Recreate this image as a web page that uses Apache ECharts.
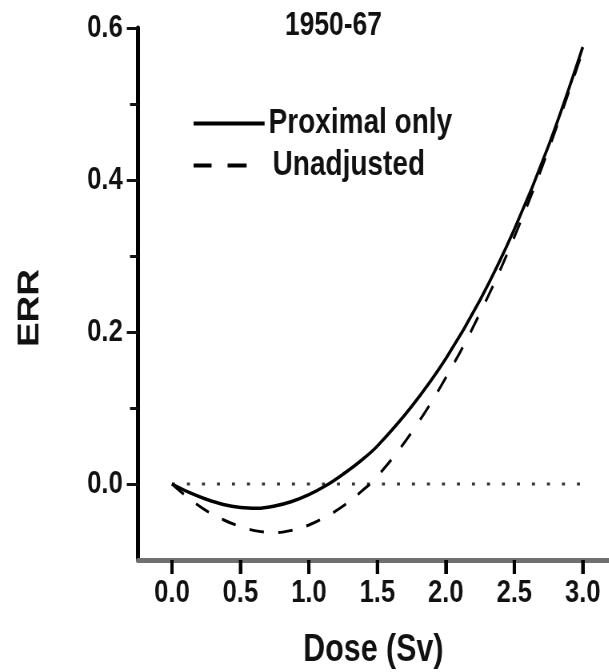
<!DOCTYPE html>
<html>
<head>
<meta charset="utf-8">
<script src="https://cdn.jsdelivr.net/npm/echarts@6/dist/echarts.min.js"></script>
<style>
  html, body { margin: 0; padding: 0; background: #fff; overflow: hidden; }
  /* the source figure has tall, narrow lettering: draw wider and squeeze horizontally */
  #chart { width: 761.25px; height: 672px; transform: scaleX(0.8); transform-origin: 0 0; }
</style>
</head>
<body>
<div id="chart"></div>
<script>
// values (dose in Sv, excess relative risk)
const doses = [0, 0.125, 0.25, 0.375, 0.5, 0.625, 0.75, 0.875, 1.0, 1.125, 1.25, 1.375, 1.5,
  1.75, 2.0, 2.25, 2.5, 2.75, 3.0]
const proximalOnly = [0, -0.011, -0.02, -0.027, -0.031, -0.032, -0.029, -0.023, -0.014, -0.002, 0.013, 0.03, 0.05,
  0.102, 0.165, 0.242, 0.335, 0.445, 0.575]
const unadjusted = [0, -0.019, -0.035, -0.047, -0.056, -0.062, -0.064, -0.061, -0.054, -0.043, -0.029, -0.011, 0.01,
  0.068, 0.14, 0.225, 0.325, 0.44, 0.57]
const zeroLine = [[0, 0], [3, 0]]

const xTicks = [0, 0.5, 1.0, 1.5, 2.0, 2.5, 3.0]
const yTicks = [0, 0.2, 0.4, 0.6]
const yMinorTicks = [0.1, 0.3, 0.5]
const Y_MIN = -0.1

const SX = 0.8 // horizontal squeeze applied by css
const FONT = "'Liberation Sans', Arial, sans-serif"
const px = v => v / SX

function pairs(xs, ys) {
  return xs.map((x, i) => [x, ys[i]])
}

const chart = echarts.init(document.getElementById('chart'))

const textBase = { fontFamily: FONT, fontWeight: 'bold', color: '#111' }

chart.setOption({
  animation: false,
  title: {
    text: '1950-67',
    left: px(285),
    top: 9,
    padding: 0,
    textStyle: { ...textBase, fontSize: 33 }
  },
  legend: [
    {
      data: ['Proximal only'],
      left: px(192),
      top: 106,
      padding: 0,
      itemWidth: px(71),
      itemHeight: 4,
      lineStyle: { width: 4 },
      textStyle: { ...textBase, fontSize: 35 }
    },
    {
      data: [{
        name: 'Unadjusted',
        lineStyle: { width: 4, type: [px(18), px(16), px(19), 80] }
      }],
      left: px(192),
      top: 148,
      padding: 0,
      itemWidth: px(75),
      itemHeight: 4,
      textStyle: { ...textBase, fontSize: 35 }
    }
  ],
  grid: { left: px(138), right: 0, top: 28, bottom: 112, outerBoundsMode: 'none' },
  xAxis: {
    type: 'value',
    min: -0.248,
    max: 3.19,
    name: 'Dose (Sv)',
    nameLocation: 'middle',
    nameGap: 72,
    nameTextStyle: { ...textBase, fontSize: 38 },
    splitLine: { show: false },
    axisLine: { onZero: false, lineStyle: { color: '#707070', width: 5 } },
    axisTick: {
      show: true,
      customValues: xTicks,
      length: 14,
      lineStyle: { color: '#000', width: 4 }
    },
    axisLabel: {
      customValues: xTicks,
      margin: 17,
      formatter: v => v.toFixed(1),
      ...textBase,
      fontSize: 32
    }
  },
  yAxis: [
    {
      type: 'value',
      min: Y_MIN,
      max: 0.6,
      name: 'ERR',
      nameLocation: 'middle',
      nameGap: 116,
      nameTextStyle: { ...textBase, fontSize: 37, padding: [0, 28, 0, 0] },
      splitLine: { show: false },
      axisLine: { onZero: false, lineStyle: { color: '#000', width: 5 } },
      axisTick: { customValues: yTicks, length: 14, lineStyle: { color: '#111', width: 3 } },
      axisLabel: {
        customValues: yTicks,
        margin: 19,
        formatter: v => v.toFixed(1),
        ...textBase,
        fontSize: 32
      }
    },
    {
      // only carries the short minor ticks
      type: 'value',
      position: 'left',
      offset: 0,
      min: Y_MIN,
      max: 0.6,
      splitLine: { show: false },
      axisLine: { show: false, onZero: false },
      axisLabel: { show: false },
      axisTick: { customValues: yMinorTicks, length: 10, lineStyle: { color: '#111', width: 3 } }
    }
  ],
  series: [
    {
      name: 'zero',
      type: 'line',
      data: zeroLine,
      symbol: 'none',
      silent: true,
      lineStyle: { color: '#333', width: 3, type: [px(3), px(12)] }
    },
    {
      name: 'Proximal only',
      type: 'line',
      data: pairs(doses, proximalOnly),
      smooth: 0.4,
      symbol: 'none',
      itemStyle: { color: '#000' },
      lineStyle: { color: '#000', width: 3.5, type: 'solid' }
    },
    {
      name: 'Unadjusted',
      type: 'line',
      data: pairs(doses, unadjusted),
      smooth: 0.4,
      symbol: 'none',
      itemStyle: { color: '#000' },
      lineStyle: { color: '#000', width: 3, type: [18, 18] }
    },
    {
      // x tick marks below the axis line, placed through the x scale
      name: 'xticks',
      type: 'custom',
      silent: true,
      clip: false,
      z: 5,
      data: xTicks.map(v => [v, Y_MIN]),
      renderItem: (params, api) => {
        const p = api.coord([api.value(0), api.value(1)])
        return {
          type: 'line',
          shape: { x1: p[0], y1: p[1], x2: p[0], y2: p[1] + 14 },
          style: { stroke: '#000', lineWidth: 4 }
        }
      }
    }
  ]
})
</script>
</body>
</html>
